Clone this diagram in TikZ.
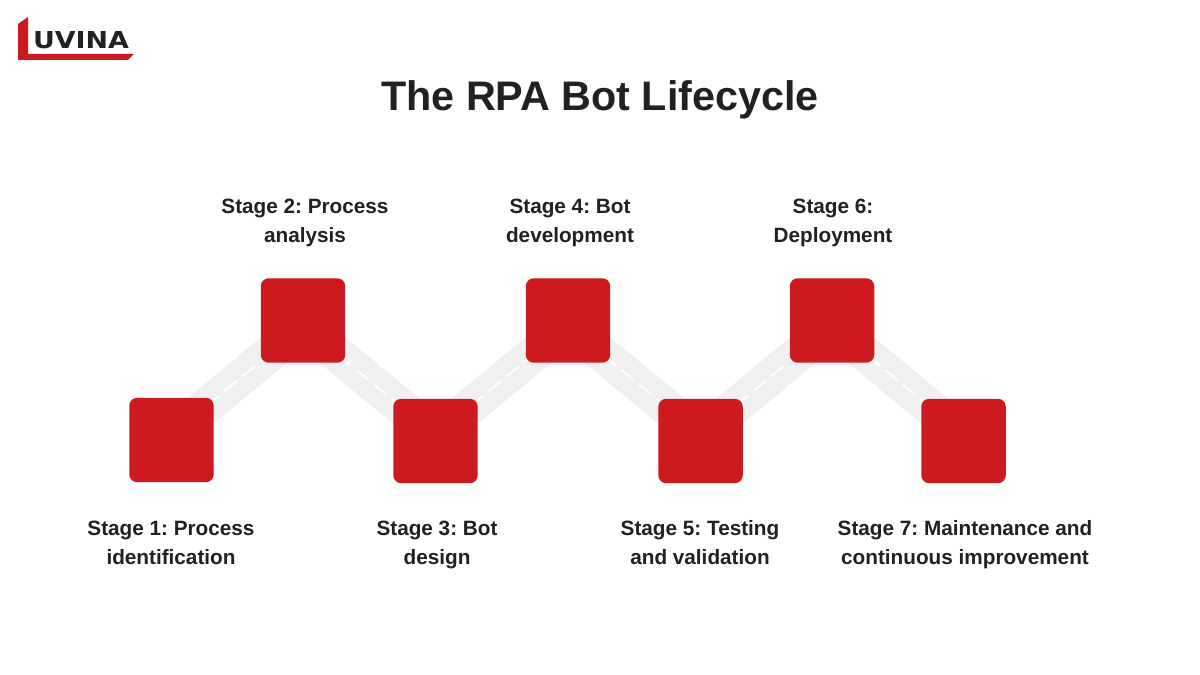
\documentclass[tikz,border=0pt]{standalone}
\usepackage{fontspec}
\usepackage{graphicx}
\setmainfont{Liberation Sans}
\usetikzlibrary{backgrounds}
\definecolor{brandred}{HTML}{CC1A1F}
\definecolor{bandgrey}{HTML}{F0F0F0}
\definecolor{ink}{HTML}{212121}
\newcommand{\twolines}[2]{\strut #1\\\strut #2}
\tikzset{
  stagebox/.style={draw=none,fill=brandred,rounded corners=0.16cm,minimum width=1.69cm,minimum height=1.69cm,inner sep=0pt},
  stagelabel/.style={align=center,text=ink,font=\fontsize{11.8}{16.4}\selectfont\bfseries\frenchspacing,inner sep=0pt},
  band/.style={draw=bandgrey,line width=0.72cm},
  lane/.style={draw=white,line width=0.04cm,dash pattern=on 0.32cm off 0.14cm}
}
\begin{document}
\begin{tikzpicture}[x=0.02cm,y=-0.02cm]
\useasboundingbox (0,0) rectangle (1200,675);
\node[stagebox] (s1) at (171.5,440) {};
\node[stagebox] (s2) at (303,320.5) {};
\node[stagebox] (s3) at (435.5,441) {};
\node[stagebox] (s4) at (568,320.5) {};
\node[stagebox] (s5) at (700.5,441) {};
\node[stagebox] (s6) at (832,320.5) {};
\node[stagebox] (s7) at (963.5,441) {};
\coordinate (c1) at ([yshift=0.1cm]s1.center);
\coordinate (c2) at ([yshift=-0.11cm]s2.center);
\coordinate (c3) at ([yshift=0.12cm]s3.center);
\coordinate (c4) at ([yshift=-0.11cm]s4.center);
\coordinate (c5) at ([yshift=0.12cm]s5.center);
\coordinate (c6) at ([yshift=-0.11cm]s6.center);
\coordinate (c7) at ([yshift=0.12cm]s7.center);
\begin{scope}[on background layer]
\fill[white] (0,0) rectangle (1200,675);
\foreach \a/\b in {c1/c2,c2/c3,c3/c4,c4/c5,c5/c6,c6/c7}{
  \draw[band] (\a) -- (\b);
  \draw[lane] (\a) -- (\b);
}
\end{scope}
\node[text=ink,font=\fontsize{23.5}{28}\selectfont\bfseries,inner sep=0pt] (title) at (600,100) {The RPA Bot Lifecycle};
\node[stagelabel] (l1) at (171,544) {\twolines{Stage 1: Process}{identification}};
\node[stagelabel] (l2) at (305,222) {\twolines{Stage 2: Process}{analysis}};
\node[stagelabel] (l3) at (437,544) {\twolines{Stage 3: Bot}{design}};
\node[stagelabel] (l4) at (570,222) {\twolines{Stage 4: Bot}{development}};
\node[stagelabel] (l5) at (700,544) {\twolines{Stage 5: Testing}{and validation}};
\node[stagelabel] (l6) at (833,222) {\twolines{Stage 6:}{Deployment}};
\node[stagelabel] (l7) at (965,544) {\twolines{Stage 7: Maintenance and}{continuous improvement}};
\fill[brandred] (18,24) -- (28,17) -- (28,54) -- (134,54) -- (128,60) -- (18,60) -- cycle;
\node[inner sep=0pt,text=ink] (logo) at (81,40) {\resizebox{1.92cm}{0.34cm}{\fontspec{DejaVu Sans}\bfseries UVINA}};
\end{tikzpicture}
\end{document}
